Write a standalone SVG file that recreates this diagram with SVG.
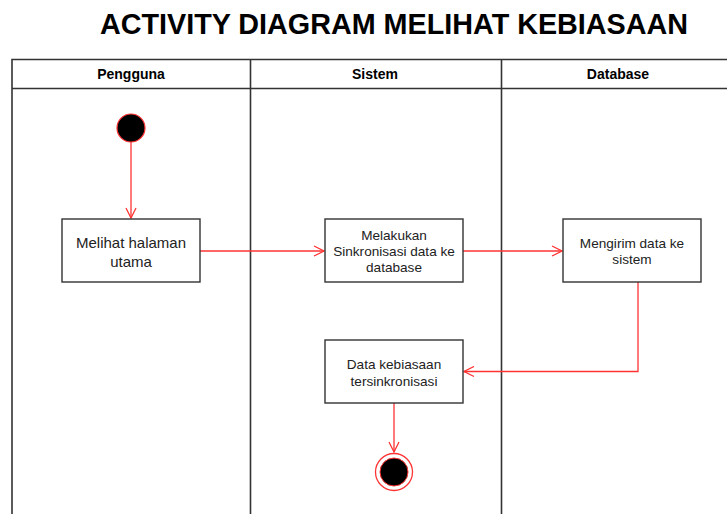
<svg xmlns="http://www.w3.org/2000/svg" width="727" height="514" viewBox="0 0 727 514">
  <style>
    .title { font-family: "Liberation Sans", Arial, sans-serif; font-weight: bold; font-size: 29px; fill: #000; }
    .lane { font-family: "Liberation Sans", Arial, sans-serif; font-weight: bold; font-size: 14px; fill: #000; text-anchor: middle; }
    .frame { fill: none; stroke: #333; stroke-width: 1.6; }
    .act { fill: #fff; stroke: #333; stroke-width: 1.4; }
    .label { font-family: "Liberation Sans", Arial, sans-serif; font-size: 13.6px; fill: #222; text-anchor: middle; }
    .flow { fill: none; stroke: #ff3333; stroke-width: 1.3; }
  </style>
  <defs>
    <marker id="arrow" viewBox="0 0 12 12" refX="11" refY="6" markerWidth="12" markerHeight="12" markerUnits="userSpaceOnUse" orient="auto">
      <path d="M1,1 L11,6 L1,11" fill="none" stroke="#ff3333" stroke-width="1.3"/>
    </marker>
  </defs>

  <rect width="727" height="514" fill="#fff"/>

  <text class="title" x="394" y="34" text-anchor="middle" textLength="588" lengthAdjust="spacingAndGlyphs">ACTIVITY DIAGRAM MELIHAT KEBIASAAN</text>

  <!-- swimlanes -->
  <g id="swimlanes">
    <path class="frame" d="M12,514 V59.5 H727 M12,88.5 H727 M250.5,59 V514 M501.5,59 V514"/>
    <text class="lane" x="131" y="79">Pengguna</text>
    <text class="lane" x="375" y="79">Sistem</text>
    <text class="lane" x="618" y="79">Database</text>
  </g>

  <!-- connectors -->
  <g id="connectors">
    <path class="flow" d="M131,142 V218" marker-end="url(#arrow)"/>
    <path class="flow" d="M200,251 H324" marker-end="url(#arrow)"/>
    <path class="flow" d="M463,251 H562" marker-end="url(#arrow)"/>
    <path class="flow" d="M638,282 V371.5 H464" marker-end="url(#arrow)"/>
    <path class="flow" d="M394,403 V452" marker-end="url(#arrow)"/>
  </g>

  <g id="start">
    <circle cx="131" cy="128" r="14" fill="#000" stroke="#ff3333" stroke-width="1.2"/>
  </g>

  <g id="melihat-halaman">
    <rect class="act" x="62" y="219" width="138" height="63"/>
    <text class="label" x="131" y="248" style="font-size:15px">Melihat halaman</text>
    <text class="label" x="131" y="267" style="font-size:15px">utama</text>
  </g>

  <g id="sinkronisasi">
    <rect class="act" x="325" y="219" width="138" height="63"/>
    <text class="label" x="394" y="240">Melakukan</text>
    <text class="label" x="394" y="256">Sinkronisasi data ke</text>
    <text class="label" x="394" y="272">database</text>
  </g>

  <g id="mengirim-data">
    <rect class="act" x="563" y="219" width="138" height="63"/>
    <text class="label" x="632" y="248">Mengirim data ke</text>
    <text class="label" x="632" y="264">sistem</text>
  </g>

  <g id="data-tersinkronisasi">
    <rect class="act" x="325" y="340" width="138" height="63"/>
    <text class="label" x="394" y="369">Data kebiasaan</text>
    <text class="label" x="394" y="386">tersinkronisasi</text>
  </g>

  <g id="end">
    <circle cx="394" cy="472" r="18.5" fill="#fff" stroke="#ff3333" stroke-width="1.3"/>
    <circle cx="394" cy="472" r="14" fill="#000" stroke="#ff3333" stroke-width="1"/>
  </g>
</svg>
